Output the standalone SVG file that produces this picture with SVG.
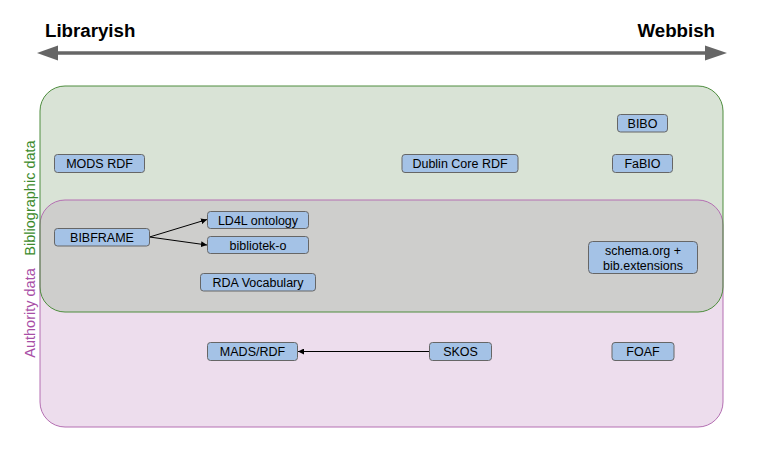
<svg xmlns="http://www.w3.org/2000/svg" width="762" height="462" viewBox="0 0 762 462">
<defs>
<style>
.node rect{fill:#a4c2e6;stroke:#666;stroke-width:1}
.node text{font-family:"Liberation Sans",Arial,sans-serif;font-size:12.5px;fill:#000;text-anchor:middle}
.hdr{font-family:"Liberation Sans",Arial,sans-serif;font-size:18.7px;font-weight:bold;fill:#000}
.side{font-family:"Liberation Sans",Arial,sans-serif;font-size:14.5px;text-anchor:middle}
.conn{stroke:#000;stroke-width:1;fill:none;marker-end:url(#ah)}
</style>
<marker id="ah" markerWidth="7" markerHeight="6" refX="6" refY="3" orient="auto" markerUnits="userSpaceOnUse">
<path d="M0,0 L6,3 L0,6 Z" fill="#000"/>
</marker>
</defs>
<rect width="762" height="462" fill="#fff"/>
<!-- axis -->
<g id="axis">
<line x1="57" y1="53" x2="706" y2="53" stroke="#666" stroke-width="3.3"/>
<path d="M37,53 L58,45.5 L58,60.5 Z" fill="#666"/>
<path d="M727,53 L705,45.5 L705,60.5 Z" fill="#666"/>
<text class="hdr" x="45" y="36.5">Libraryish</text>
<text class="hdr" x="715" y="36.5" text-anchor="end">Webbish</text>
</g>
<!-- regions -->
<g id="regions">
<rect x="40" y="200" width="683" height="227" rx="25" ry="25" fill="#eddded"/>
<rect x="40" y="86" width="683" height="226" rx="25" ry="25" fill="#d9e3d6"/>
<path d="M65,200 H698 A25,25 0 0 1 723,225 V287 A25,25 0 0 1 698,312 H65 A25,25 0 0 1 40,287 V225 A25,25 0 0 1 65,200 Z" fill="#cececc"/>
<rect x="40" y="200" width="683" height="227" rx="25" ry="25" fill="none" stroke="#b46fb2" stroke-width="1"/>
<rect x="40" y="86" width="683" height="226" rx="25" ry="25" fill="none" stroke="#4e8d3e" stroke-width="1"/>
<text class="side" fill="#3c8a2c" transform="translate(34.5,198) rotate(-90)">Bibliographic data</text>
<text class="side" fill="#a84ea6" transform="translate(34.5,313) rotate(-90)">Authority data</text>
</g>
<!-- connectors -->
<g id="connectors">
<line class="conn" x1="149.5" y1="237" x2="207" y2="219.5"/>
<line class="conn" x1="149.5" y1="237" x2="207" y2="245"/>
<line class="conn" x1="429" y1="351.5" x2="298" y2="351.5"/>
</g>
<!-- nodes -->
<g id="n-mods" class="node"><rect x="54.5" y="154.5" width="90" height="18" rx="3"/><text x="99.5" y="168">MODS RDF</text></g>
<g id="n-dc" class="node"><rect x="402" y="154.5" width="116" height="18" rx="3"/><text x="460" y="168">Dublin Core RDF</text></g>
<g id="n-bibo" class="node"><rect x="617.5" y="114.5" width="50" height="17.5" rx="3"/><text x="642.5" y="127.5">BIBO</text></g>
<g id="n-fabio" class="node"><rect x="612.5" y="154.5" width="60" height="18" rx="3"/><text x="642.5" y="168">FaBIO</text></g>
<g id="n-bibframe" class="node"><rect x="54.5" y="228.5" width="95" height="17.5" rx="3"/><text x="102" y="241.5">BIBFRAME</text></g>
<g id="n-ld4l" class="node"><rect x="207.5" y="211.5" width="101" height="17" rx="3"/><text x="258" y="224.5">LD4L ontology</text></g>
<g id="n-bibliotek" class="node"><rect x="207.5" y="236.5" width="101" height="17" rx="3"/><text x="258" y="249.5">bibliotek-o</text></g>
<g id="n-rda" class="node"><rect x="200.5" y="273.5" width="115" height="17.5" rx="3"/><text x="258" y="286.5">RDA Vocabulary</text></g>
<g id="n-schema" class="node"><rect x="588.5" y="241.5" width="109" height="32" rx="4"/><text x="643" y="255">schema.org +</text><text x="643" y="269.5">bib.extensions</text></g>
<g id="n-mads" class="node"><rect x="207.5" y="342.5" width="90" height="18" rx="3"/><text x="252.5" y="356">MADS/RDF</text></g>
<g id="n-skos" class="node"><rect x="429.5" y="342.5" width="62" height="18" rx="3"/><text x="460.5" y="356">SKOS</text></g>
<g id="n-foaf" class="node"><rect x="612" y="342.5" width="62" height="18" rx="3"/><text x="643" y="356">FOAF</text></g>
</svg>
